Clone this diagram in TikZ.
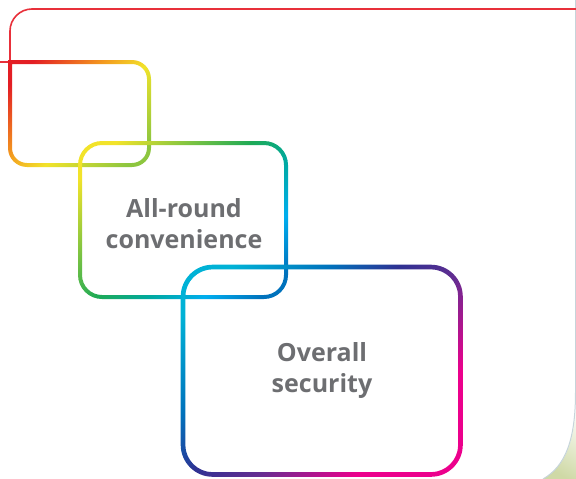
\documentclass[tikz,border=0pt]{standalone}
\usepackage{fontspec}
\setmainfont{Open Sans}

\definecolor{framered}{HTML}{E8303A}
\definecolor{textgrey}{HTML}{6D6E71}
\definecolor{edgegrey}{HTML}{C6D4DA}
\definecolor{pagegreen}{HTML}{CFD9A6}
\definecolor{redA}{HTML}{E31E24}
\definecolor{orangeA}{HTML}{F39A1F}
\definecolor{yellowA}{HTML}{F2E32A}
\definecolor{limeA}{HTML}{8DC63F}
\definecolor{greenB}{HTML}{1FAA55}
\definecolor{tealB}{HTML}{00A99D}
\definecolor{cyanB}{HTML}{00AEEF}
\definecolor{blueB}{HTML}{0072BC}
\definecolor{cyanC}{HTML}{00B2D6}
\definecolor{indigoC}{HTML}{2E3192}
\definecolor{purpleC}{HTML}{662D91}
\definecolor{magentaC}{HTML}{EC008C}

\pgfdeclarehorizontalshading{warmgrad}{100bp}{color(0bp)=(redA); color(22bp)=(redA); color(42bp)=(orangeA); color(55bp)=(yellowA); color(78bp)=(limeA); color(100bp)=(limeA)}
\pgfdeclarehorizontalshading{freshgrad}{100bp}{color(0bp)=(yellowA); color(22bp)=(yellowA); color(48bp)=(greenB); color(58bp)=(tealB); color(69bp)=(cyanB); color(80bp)=(blueB); color(100bp)=(blueB)}
\pgfdeclarehorizontalshading{coolgrad}{100bp}{color(0bp)=(cyanC); color(22bp)=(cyanC); color(36bp)=(blueB); color(46bp)=(indigoC); color(56bp)=(purpleC); color(70bp)=(magentaC); color(100bp)=(magentaC)}

\begin{document}
\begin{tikzpicture}[x=1pt, y=-1pt,
  labeltext/.style={font=\fontsize{25}{31}\selectfont\bfseries, text=textgrey, align=center},
  frameline/.style={draw=framered, line width=1.6pt},
  ring/.style={shading=#1, shading angle=-45, even odd rule}]
\useasboundingbox (0,0) rectangle (576,479);

% page corner
\shade[left color=white, right color=pagegreen, shading angle=-30]
  (576,392) .. controls (576,440) and (566,466) .. (543,479) -- (576,479) -- cycle;
\draw[edgegrey, line width=1pt] (575.5,0) -- (575.5,392) .. controls (575.5,440) and (565.5,466) .. (543,479);

% outer frame
\draw[frameline, rounded corners=22pt] (577,9) -- (10,9) -- (10,62);
\draw[frameline] (0,62) -- (10,62);

% small box
\shade[ring=warmgrad]
  (8,60) [rounded corners=19pt] -- (151,60) -- (151,167) -- (8,167) -- (8,60)
  [sharp corners] (12,64) [rounded corners=15pt] -- (147,64) -- (147,163) -- (12,163) -- (12,64);

% middle box
\shade[ring=freshgrad]
  [rounded corners=24pt] (78,141) rectangle (288,299)
  [rounded corners=20pt] (82,145) rectangle (284,295);

% big box
\shade[ring=coolgrad]
  [rounded corners=32pt] (180.7,264.7) rectangle (462.8,476.8)
  [rounded corners=27.5pt] (185.3,269.3) rectangle (458.2,472.2);

% labels
\node[labeltext] (convenience) at (184,224) {All-round\\convenience};
\node[labeltext] (security) at (322,371) {Overall\\security};
\end{tikzpicture}
\end{document}
